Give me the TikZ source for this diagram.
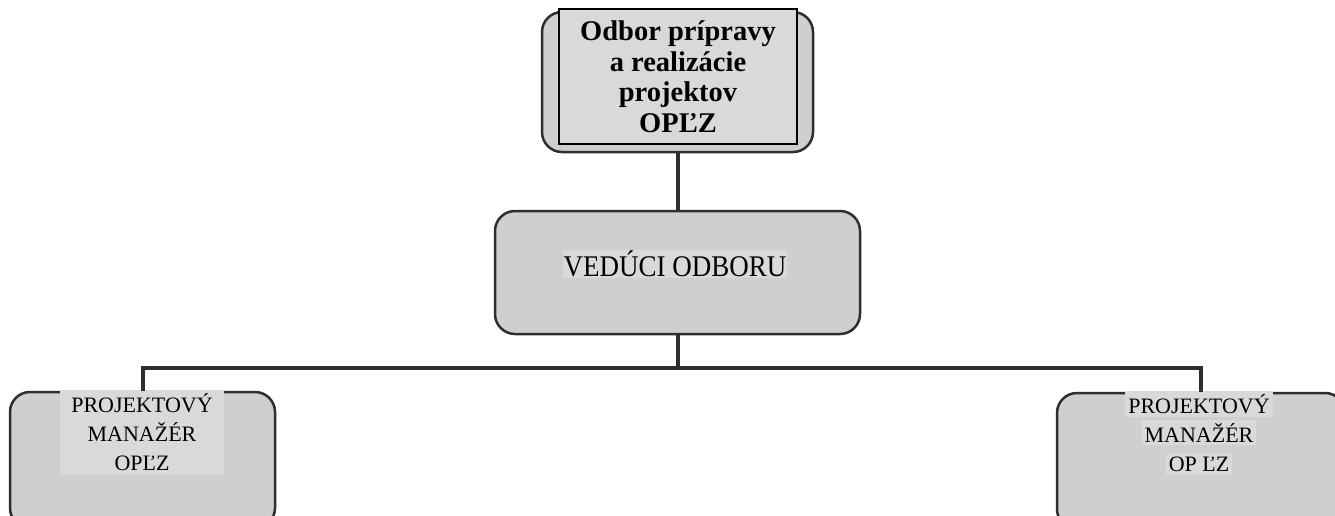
\documentclass[tikz,border=0pt]{standalone}
\usepackage{fontspec}
\setmainfont{Liberation Serif}
\definecolor{boxfill}{HTML}{CFCFCF}
\definecolor{txtbg}{HTML}{D9D9D9}
\definecolor{lineclr}{HTML}{2E2E2E}
\newcommand{\linebg}[1]{{\setlength{\fboxsep}{3pt}\colorbox{txtbg}{#1}}}
\begin{document}
\begin{tikzpicture}[x=1pt,y=-1pt,
  orgbox/.style={draw=lineclr, line width=2.5pt, fill=boxfill, rounded corners=20pt, inner sep=0pt},
  textbg/.style={fill=txtbg, inner sep=0pt, align=center},
  conn/.style={draw=lineclr, line width=4pt}]
\useasboundingbox (0,0) rectangle (1335,515);
\fill[white] (0,0) rectangle (1335,515);
% boxes
\node[orgbox, minimum width=271pt, minimum height=140pt] (top) at (677.5,82) {};
\node[draw=black, line width=2.8pt, fill=txtbg, minimum width=238pt, minimum height=135pt, align=center, inner sep=0pt,
  font=\fontsize{28.5pt}{30.5pt}\selectfont\bfseries] (toptxt) at (678,76.5)
  {Odbor prípravy\\a realizácie\\projektov\\OPĽZ};
\node[orgbox, minimum width=365pt, minimum height=123pt] (mid) at (677.5,272.5) {};
\node[textbg, minimum width=224pt, minimum height=28pt, font=\fontsize{30pt}{32pt}\selectfont] (midtxt) at (675,264) {\scalebox{0.9}[1]{VEDÚCI ODBORU}};
\node[orgbox, minimum width=265pt, minimum height=136pt] (left) at (142.5,460) {};
\node[textbg, minimum width=164pt, minimum height=85pt, font=\fontsize{22pt}{29pt}\selectfont] (lefttxt) at (142,432)
  {PROJEKTOVÝ\\MANAŽÉR\\OPĽZ};
\node[orgbox, minimum width=288pt, minimum height=136pt] (right) at (1201,461) {};
\node[align=center, inner sep=0pt, font=\fontsize{22pt}{29pt}\selectfont] (righttxt) at (1199,433)
  {\linebg{PROJEKTOVÝ}\\\linebg{MANAŽÉR}\\\linebg{OP ĽZ}};
% connectors
\coordinate (bus) at (677.5,368);
\draw[conn] (top.south) -- (mid.north);
\draw[conn] (mid.south) -- (bus);
\draw[conn, line join=miter] (left.north) |- (bus) -| (right.north);
\end{tikzpicture}
\end{document}
